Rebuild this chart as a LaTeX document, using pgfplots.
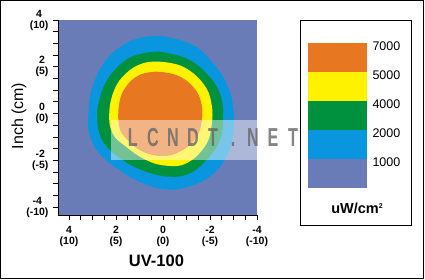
\documentclass[border=0pt]{standalone}
\usepackage{pgfplots}
\pgfplotsset{compat=1.18}
\usepackage{fontspec}
\setmainfont{Liberation Sans}
\definecolor{slate}{RGB}{106,124,184}
\definecolor{bluec}{RGB}{10,150,222}
\definecolor{greenc}{RGB}{0,145,62}
\definecolor{yellowc}{RGB}{255,242,0}
\definecolor{orangec}{RGB}{232,119,34}
\begin{document}
\begin{tikzpicture}[x=1pt,y=1pt]
\useasboundingbox (0,0) rectangle (425,280);
\fill[white] (0,0) rectangle (425,280);
\begin{axis}[
  at={(58pt,65pt)}, anchor=south west, scale only axis,
  width=199pt, height=195pt,
  xmin=-4, xmax=4.47, ymin=-4.34, ymax=4, x dir=reverse,
  axis background/.style={fill=slate},
  axis x line=bottom, axis y line=left,
  axis line style={-, line width=0.8pt, black},
  xtick={-4,-2,0,2,4},
  xticklabels={{-4\\(-10)},{-2\\(-5)},{0\\(0)},{2\\(5)},{4\\(10)}},
  ytick={-4,-2,0,2,4},
  yticklabels={{-4\\(-10)},{-2\\(-5)},{0\\(0)},{2\\(5)},{4\\(10)}},
  minor tick num=3,
  tick align=outside, major tick length=5pt, minor tick length=5pt,
  tick style={black, line width=0.7pt},
  ticklabel style={font=\fontsize{10.5}{11}\selectfont\bfseries, align=center},
  xticklabel style={yshift=-2.5pt},
  yticklabel style={xshift=-1pt},
]
% 1000 contour
\addplot[fill=bluec, draw=none, smooth, tension=0.7] coordinates {
 (0.007,3.316) (-1.276,2.931) (-2.132,2.147) (-2.702,1.291) (-2.987,0.293)
 (-2.987,-0.848) (-2.702,-1.846) (-1.989,-2.702) (-0.991,-3.158) (-0.135,-3.244)
 (0.863,-2.987) (1.861,-2.417) (2.717,-1.704) (3.145,-0.848) (3.173,0.008)
 (3.002,1.148) (2.432,2.289) (1.576,3.002) (0.720,3.287) (0.007,3.316)};
% 2000 contour
\addplot[fill=greenc, draw=none, smooth, tension=0.7] coordinates {
 (0.150,2.646) (-0.991,2.360) (-1.846,1.719) (-2.417,0.863) (-2.559,-0.135)
 (-2.417,-1.133) (-1.846,-1.989) (-1.133,-2.559) (-0.278,-2.702) (0.720,-2.488)
 (1.719,-1.989) (2.503,-1.276) (2.788,-0.420) (2.717,0.578) (2.289,1.576)
 (1.576,2.289) (0.863,2.574) (0.150,2.646)};
% 4000 contour
\addplot[fill=yellowc, draw=none, smooth, tension=0.7] coordinates {
 (0.150,2.218) (-0.848,2.004) (-1.704,1.291) (-2.060,0.435) (-2.060,-0.563)
 (-1.775,-1.418) (-0.991,-2.131) (-0.135,-2.231) (0.720,-1.989) (1.576,-1.418)
 (2.146,-0.848) (2.289,0.008) (2.075,1.006) (1.576,1.719) (0.863,2.147) (0.150,2.218)};
% 5000 contour
\addplot[fill=orangec, draw=none, smooth, tension=0.7] coordinates {
 (0.293,1.790) (-0.563,1.647) (-1.276,1.148) (-1.633,0.435) (-1.633,-0.420)
 (-1.347,-1.133) (-0.706,-1.632) (0.007,-1.818) (0.863,-1.632) (1.505,-1.133)
 (1.861,-0.563) (1.861,0.435) (1.576,1.148) (1.006,1.647) (0.293,1.790)};
% watermark band
\addplot[fill=white, fill opacity=0.45, draw=none] coordinates {
 (2.20,-1.99) (-4,-1.99) (-4,-0.28) (2.20,-0.28)} --cycle;
\end{axis}
% watermark text
\node[text=gray!80!black, opacity=0.8, xscale=0.62,
      font=\fontsize{26}{26}\selectfont\bfseries] at (213,142)
  {\makebox[32.3pt]{L}\makebox[32.3pt]{C}\makebox[32.3pt]{N}\makebox[32.3pt]{D}\makebox[32.3pt]{T}\makebox[32.3pt]{.}\makebox[32.3pt]{N}\makebox[32.3pt]{E}\makebox[32.3pt]{T}};
% axis titles
\node[rotate=90, font=\fontsize{16}{16}\selectfont] at (19,164) {Inch (cm)};
\node[font=\fontsize{16.5}{17}\selectfont\bfseries] at (156.5,19) {UV-100};
% legend
\draw[line width=0.8pt] (300.4,55) rectangle (411.7,260);
\begin{axis}[
  at={(308pt,92pt)}, anchor=south west, scale only axis,
  width=59pt, height=145pt,
  xmin=0, xmax=1, ymin=0, ymax=5,
  axis line style={draw=none},
  xtick=\empty, ytick={1,2,3,4,5},
  yticklabels={1000,2000,4000,5000,7000},
  yticklabel pos=right, major tick length=0pt, tick style={draw=none},
  yticklabel style={font=\fontsize{12.5}{13}\selectfont, anchor=west, xshift=2pt, yshift=-3pt},
]
\addplot[fill=slate, draw=none] coordinates {(0,0) (1,0) (1,1) (0,1)} --cycle;
\addplot[fill=bluec, draw=none] coordinates {(0,1) (1,1) (1,2) (0,2)} --cycle;
\addplot[fill=greenc, draw=none] coordinates {(0,2) (1,2) (1,3) (0,3)} --cycle;
\addplot[fill=yellowc, draw=none] coordinates {(0,3) (1,3) (1,4) (0,4)} --cycle;
\addplot[fill=orangec, draw=none] coordinates {(0,4) (1,4) (1,5) (0,5)} --cycle;
\end{axis}
\node[font=\fontsize{14.5}{15}\selectfont\bfseries] at (357,72) {uW/cm\raisebox{5pt}{\fontsize{7}{7}\selectfont 2}};
% outer frame
\draw[line width=1.2pt] (0.6,1.6) rectangle (423.6,279.4);
\end{tikzpicture}
\end{document}
